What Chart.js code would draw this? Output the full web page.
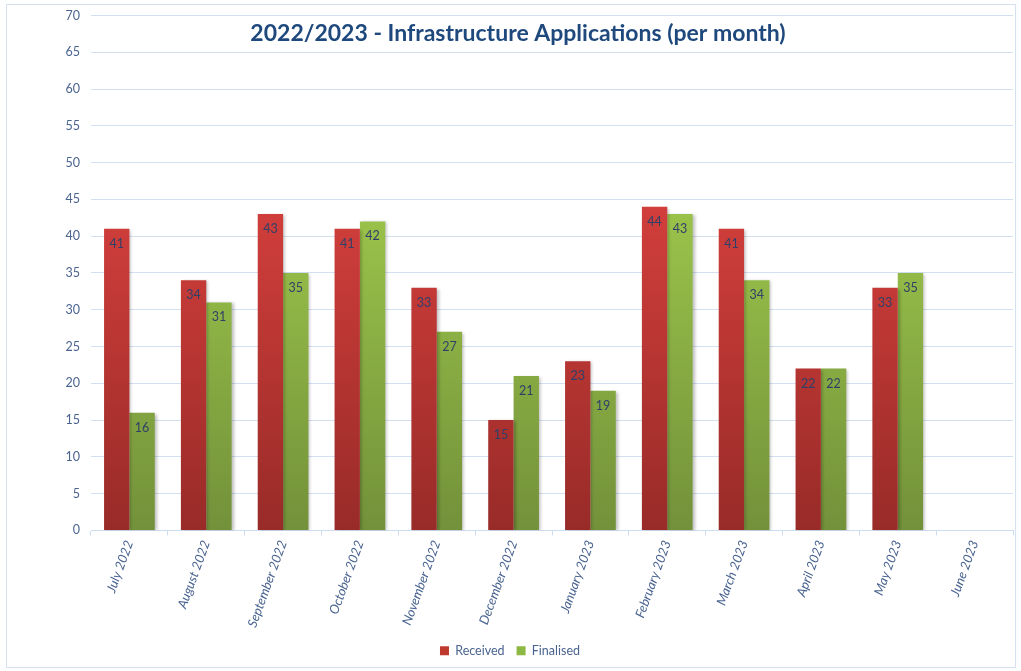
<!DOCTYPE html>
<html>
<head>
<meta charset="utf-8">
<script src="https://cdn.jsdelivr.net/npm/chart.js@4.4.0/dist/chart.umd.min.js"></script>
<style>
  body { margin: 0; background: #fff; }
  .chart-box {
    position: absolute; left: 6px; top: 4px;
    width: 1008px; height: 662px;
    border: 1px solid #d6e0ee;
  }
  .chart-inner {
    position: absolute; left: 0; top: -8px;
    width: 1008px; height: 670px;
  }
</style>
</head>
<body>
<div class="chart-box"><div class="chart-inner"><canvas id="myChart"></canvas></div></div>
<script>
  // data
  const months = ["July 2022", "August 2022", "September 2022", "October 2022", "November 2022",
    "December 2022", "January 2023", "February 2023", "March 2023", "April 2023", "May 2023", "June 2023"];
  const received = [41, 34, 43, 41, 33, 15, 23, 44, 41, 22, 33, null];
  const finalised = [16, 31, 35, 42, 27, 21, 19, 43, 34, 22, 35, null];
  const yTicks = [0, 5, 10, 15, 20, 25, 30, 35, 40, 45, 50, 55, 60, 65, 70];
  const chartTitle = "2022/2023 - Infrastructure Applications (per month)";

  const FONT = "Lato, 'Open Sans', sans-serif";
  const tickColor = "#4a6490";
  const legendColors = ["#c0392f", "#8db843"];

  function grad(top, bottom) {
    return (c) => {
      const area = c.chart.chartArea;
      if (!area) return top;
      const g = c.chart.ctx.createLinearGradient(0, area.top + 180, 0, area.bottom);
      g.addColorStop(0, top);
      g.addColorStop(1, bottom);
      return g;
    };
  }

  // title drawn over the plot area, like the original
  const titlePlugin = {
    id: "overTitle",
    afterDraw(chart) {
      const ctx = chart.ctx;
      ctx.save();
      ctx.font = "bold 23px " + FONT;
      ctx.fillStyle = "#1f497d";
      ctx.textAlign = "center";
      ctx.textBaseline = "middle";
      ctx.fillText(chartTitle, 511, 37);
      ctx.restore();
    },
  };

  // values inside the top of each bar
  const labelPlugin = {
    id: "barLabels",
    afterDatasetsDraw(chart) {
      const ctx = chart.ctx;
      ctx.save();
      ctx.font = "12.5px " + FONT;
      ctx.fillStyle = "#2f4068";
      ctx.textAlign = "center";
      ctx.textBaseline = "middle";
      chart.data.datasets.forEach((ds, i) => {
        chart.getDatasetMeta(i).data.forEach((bar, j) => {
          if (ds.data[j] == null) return;
          ctx.fillText(ds.data[j], bar.x, bar.y + 15);
        });
      });
      ctx.restore();
    },
  };

  // soft shadow under bars
  const shadowPlugin = {
    id: "barShadow",
    beforeDatasetsDraw(chart) {
      const ctx = chart.ctx;
      ctx.save();
      ctx.shadowColor = "rgba(0,0,0,0.25)";
      ctx.shadowBlur = 3;
      ctx.shadowOffsetX = 2;
      ctx.shadowOffsetY = 1;
    },
    afterDatasetsDraw(chart) {
      chart.ctx.restore();
    },
  };

  new Chart(document.getElementById("myChart"), {
    type: "bar",
    data: {
      labels: months,
      datasets: [
        {
          label: "Received",
          data: received,
          backgroundColor: grad("#d33f3c", "#982b28"),
          borderWidth: 0,
          categoryPercentage: 0.66,
          barPercentage: 1.0,
        },
        {
          label: "Finalised",
          data: finalised,
          backgroundColor: grad("#9cc54b", "#73913a"),
          borderWidth: 0,
          categoryPercentage: 0.66,
          barPercentage: 1.0,
        },
      ],
    },
    options: {
      responsive: true,
      maintainAspectRatio: false,
      animation: false,
      layout: { padding: { top: 2, right: 2, bottom: 0, left: 0 } },
      scales: {
        y: {
          min: 0,
          max: 70,
          afterBuildTicks: (scale) => { scale.ticks = yTicks.map((v) => ({ value: v })); },
          afterFit: (scale) => { scale.width = 84; },
          border: { display: false },
          grid: { color: "#d3e0f1", lineWidth: 1, drawTicks: false },
          ticks: { padding: 11, color: tickColor, font: { family: FONT, size: 12.5 } },
        },
        x: {
          border: { display: true, color: "#cddcef" },
          grid: { drawOnChartArea: false, drawTicks: true, tickLength: 5, color: "#cddcef", offset: true },
          ticks: {
            color: tickColor,
            maxRotation: 70,
            minRotation: 70,
            padding: 3,
            font: { family: FONT, size: 13, style: "italic" },
          },
        },
      },
      plugins: {
        tooltip: { enabled: false },
        legend: {
          position: "bottom",
          labels: {
            boxWidth: 9,
            boxHeight: 9,
            padding: 12,
            color: tickColor,
            font: { family: FONT, size: 12.5 },
            generateLabels: (chart) =>
              chart.data.datasets.map((ds, i) => ({
                text: ds.label,
                fillStyle: legendColors[i],
                strokeStyle: legendColors[i],
                lineWidth: 0,
                fontColor: tickColor,
                datasetIndex: i,
              })),
          },
        },
      },
    },
    plugins: [shadowPlugin, labelPlugin, titlePlugin],
  });
</script>
</body>
</html>
